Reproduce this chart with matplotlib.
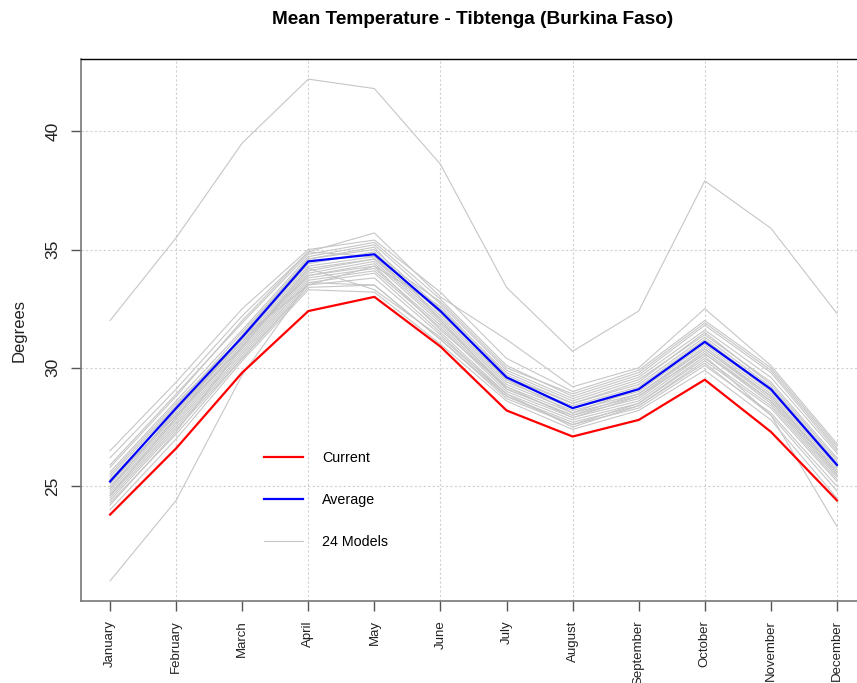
import matplotlib.pyplot as plt
import numpy as np

plt.rcParams['font.family'] = ['Liberation Sans', 'DejaVu Sans']

months = ['January', 'February', 'March', 'April', 'May', 'June', 'July',
          'August', 'September', 'October', 'November', 'December']

current = [23.8, 26.6, 29.8, 32.4, 33.0, 30.9, 28.2, 27.1, 27.8, 29.5, 27.3, 24.4]
average = [25.2, 28.3, 31.3, 34.5, 34.8, 32.4, 29.6, 28.3, 29.1, 31.1, 29.1, 25.9]

# 24 climate models
models = [
    [32.0, 35.5, 39.5, 42.2, 41.8, 38.6, 33.4, 30.7, 32.4, 37.9, 35.9, 32.3],
    [21.0, 24.4, 29.7, 33.6, 33.5, 31.2, 28.8, 27.6, 28.5, 30.5, 28.0, 23.3],
    [26.5, 29.4, 32.5, 35.0, 35.4, 33.2, 30.4, 29.0, 29.9, 32.0, 30.0, 26.7],
    [26.2, 29.1, 32.2, 34.9, 35.7, 33.0, 31.2, 29.2, 30.0, 32.5, 30.1, 26.8],
    [25.9, 28.9, 31.9, 34.8, 35.3, 32.9, 30.1, 28.8, 29.7, 31.8, 29.8, 26.5],
    [25.6, 28.6, 31.6, 34.7, 35.2, 32.7, 29.9, 28.7, 29.6, 31.6, 29.6, 26.4],
    [25.4, 28.4, 31.5, 34.6, 35.0, 32.5, 29.8, 28.6, 29.5, 31.4, 29.4, 26.2],
    [25.3, 28.2, 31.2, 34.4, 34.9, 32.3, 29.6, 28.5, 29.3, 31.3, 29.2, 26.0],
    [25.1, 28.1, 31.1, 34.3, 34.7, 32.2, 29.5, 28.4, 29.2, 31.2, 29.1, 25.9],
    [25.0, 28.0, 31.0, 34.2, 34.6, 32.1, 29.4, 28.3, 29.0, 31.0, 28.9, 25.8],
    [24.9, 27.9, 30.9, 34.0, 34.5, 32.0, 29.3, 28.2, 28.9, 30.9, 28.8, 25.7],
    [24.8, 27.8, 30.8, 33.9, 34.4, 31.9, 29.2, 28.1, 28.8, 30.8, 28.7, 25.6],
    [24.7, 27.7, 30.7, 33.8, 34.2, 31.8, 29.1, 28.0, 28.7, 30.7, 28.6, 25.5],
    [24.6, 27.6, 30.6, 33.7, 34.1, 31.7, 29.0, 27.9, 28.6, 30.6, 28.5, 25.4],
    [24.5, 27.5, 30.5, 33.6, 34.0, 31.5, 28.9, 27.8, 28.5, 30.4, 28.4, 25.3],
    [24.4, 27.4, 30.4, 33.5, 33.8, 31.4, 28.8, 27.7, 28.4, 30.3, 28.3, 25.2],
    [24.3, 27.2, 30.4, 33.4, 33.5, 31.2, 28.7, 27.6, 28.3, 30.1, 28.1, 25.0],
    [24.0, 27.0, 30.3, 33.3, 33.2, 31.0, 28.6, 27.4, 28.2, 29.9, 27.8, 24.5],
    [25.8, 28.8, 32.0, 34.9, 34.7, 32.8, 30.0, 28.9, 29.8, 31.9, 29.9, 26.6],
    [24.2, 27.3, 30.9, 34.2, 33.3, 31.3, 28.9, 27.5, 28.4, 30.2, 28.0, 24.8],
    [25.5, 28.5, 31.3, 33.5, 34.3, 32.6, 29.7, 28.5, 29.4, 31.5, 29.3, 26.1],
    [24.6, 27.9, 31.4, 34.6, 35.1, 32.0, 29.1, 28.0, 28.9, 30.8, 28.8, 25.6],
    [25.2, 28.0, 30.9, 34.1, 34.6, 32.4, 29.5, 28.1, 29.1, 31.1, 29.0, 25.9],
    [24.9, 28.2, 31.1, 33.9, 34.3, 31.6, 29.2, 27.9, 28.8, 30.6, 28.6, 25.5],
]

x = np.arange(1, 13)

fig = plt.figure(figsize=(8.57, 6.83), dpi=100)
ax = fig.add_axes([81 / 857, 82 / 683, (866 - 81) / 857, (601 - 59) / 683])

for i, m in enumerate(models):
    ax.plot(x, m, color='#c6c6c6', lw=0.8, label='24 Models' if i == 0 else None, zorder=2)
ax.plot(x, current, color='#ff0000', lw=1.6, label='Current', zorder=3)
ax.plot(x, average, color='#0000ff', lw=1.6, label='Average', zorder=4)

ax.set_xlim(0.56, 12.44)
ax.set_ylim(20.15, 43.05)

# grid (every other month, every 5 degrees)
for gx in x[1::2]:
    ax.axvline(gx, color='#d0d0d0', lw=0.8, ls=(0, (2, 2)), zorder=1)
for gy in [25, 30, 35, 40]:
    ax.axhline(gy, color='#d0d0d0', lw=0.8, ls=(0, (2, 2)), zorder=1)

ax.set_xticks(x)
ax.set_xticklabels(months, rotation=90, fontsize=9.5, va='top')
ax.set_yticks([25, 30, 35, 40])
ax.set_yticklabels(['25', '30', '35', '40'], rotation=90, va='center', fontsize=12.5)
ax.tick_params(axis='both', length=7, width=1, color='#555555', pad=7, labelcolor='#222222')
ax.tick_params(axis='y', pad=8)

for side in ['left', 'bottom']:
    ax.spines[side].set_color('#777777')
    ax.spines[side].set_linewidth(1.2)
ax.spines['top'].set_color('black')
ax.spines['top'].set_linewidth(1)
ax.spines['right'].set_visible(False)

ax.set_ylabel('Degrees', fontsize=12, color='#222222', labelpad=13)

fig.text(473 / 857, 1 - 20 / 683, 'Mean Temperature - Tibtenga (Burkina Faso)',
         ha='center', va='center', fontsize=13.7, fontweight='bold')

handles, labels = ax.get_legend_handles_labels()
order = [labels.index('Current'), labels.index('Average'), labels.index('24 Models')]
ax.legend([handles[k] for k in order], [labels[k] for k in order],
          loc='upper left', bbox_to_anchor=(257 / 857, 1 - 444 / 683),
          bbox_transform=fig.transFigure, frameon=False, fontsize=10.3,
          handlelength=2.75, handletextpad=1.3, labelspacing=1.95, borderpad=0)

fig.savefig('out.png', dpi=100)
